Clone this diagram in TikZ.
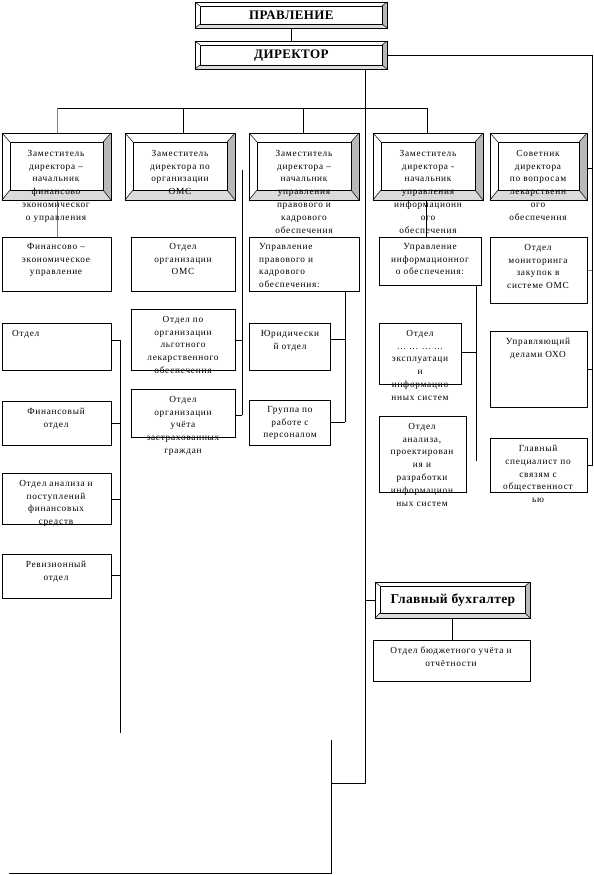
\documentclass[tikz,border=0pt]{standalone}
\usepackage{fontspec}
\setmainfont{Liberation Serif}
\newfontfamily\rf[LetterSpace=8]{Liberation Serif}
\newfontfamily\rfb[LetterSpace=3]{Liberation Serif}
\usetikzlibrary{backgrounds}
\newcommand\bevelbox[9]{%
 \node[draw, line width=0.8pt, fill=white, anchor=north west, inner sep=0pt, minimum width={#4-#2}, minimum height={#5-#3}] (#1) at (#2,#3) {};
 \fill[gray!55] (#4,#3) -- (#4,#5) -- ({#4-#8},{#5-#9}) -- ({#4-#8},{#3+#7}) -- cycle;
 \fill[gray!28] (#2,#5) -- (#4,#5) -- ({#4-#8},{#5-#9}) -- ({#2+#6},{#5-#9}) -- cycle;
 \draw[line width=0.5pt] ({#2+#6},{#3+#7}) rectangle ({#4-#8},{#5-#9});
 \draw[line width=0.5pt] (#2,#3)--({#2+#6},{#3+#7}) (#4,#3)--({#4-#8},{#3+#7}) (#2,#5)--({#2+#6},{#5-#9}) (#4,#5)--({#4-#8},{#5-#9});
 \draw[line width=0.8pt] (#1.north west) rectangle (#1.south east);
}
\newcommand\pbox[5]{%
 \node[plainbox, anchor=north west, minimum width={#4-#2}, minimum height={#5-#3}] (#1) at (#2,#3) {};}
\tikzset{
 plainbox/.style={draw, line width=0.8pt, fill=white, inner sep=0pt},
 txt/.style={font=\rf\fontsize{9.3}{12.8}\selectfont, align=center, inner sep=0pt, anchor=north},
 btxt/.style={font=\rfb\bfseries\fontsize{13}{15}\selectfont, inner sep=0pt},
 conn/.style={line width=0.8pt},
 gconn/.style={line width=0.8pt, gray}
}
\begin{document}
\begin{tikzpicture}[x=1pt,y=-1pt]
\useasboundingbox (0,0) rectangle (594,875);
% top boxes
\bevelbox{board}{195}{2}{387}{28}{5}{4}{5}{4}
\bevelbox{dir}{195}{41}{387}{69}{5}{4}{5}{4}
% column headers
\bevelbox{h1}{2}{133}{111}{200}{8}{9}{8}{10}
\bevelbox{h2}{125}{133}{235}{200}{8}{9}{8}{10}
\bevelbox{h3}{249}{133}{359}{200}{8}{9}{8}{10}
\bevelbox{h4}{373}{133}{483}{200}{8}{9}{8}{10}
\bevelbox{h5}{490}{133}{587}{200}{8}{9}{8}{10}
% column 1
\pbox{fin}{2}{237}{111}{291}
\pbox{otd}{2}{323}{111}{370}
\pbox{finotd}{2}{401}{111}{445}
\pbox{anal}{2}{473}{111}{524}
\pbox{rev}{2}{554}{111}{598}
% column 2
\pbox{oms}{131}{237}{235}{291}
\pbox{lgot}{131}{309}{235}{370}
\pbox{uch}{131}{389}{235}{437}
% column 3
\pbox{prav}{249}{237}{359}{291}
\pbox{yur}{249}{323}{330}{370}
\pbox{grp}{249}{400}{330}{445}
% column 4
\pbox{inf}{379}{237}{481}{285}
\pbox{expl}{379}{323}{461}{384}
\pbox{proekt}{379}{416}{466}{492}
% column 5
\pbox{mon}{490}{237}{587}{303}
\pbox{upr}{490}{331}{587}{407}
\pbox{glsp}{490}{438}{587}{492}
% accountant
\bevelbox{buh}{375}{582}{530}{618}{5}{4}{5}{5}
\pbox{budg}{373}{640}{530}{681}

% connectors
\begin{pgfonlayer}{background}
\coordinate (busL) at (57,108);
\coordinate (busR) at (427,108);
\draw[conn] (board.south) -- (dir.north);
\draw[conn] (dir.east) -- (dir.east -| 592,0) coordinate (rtop) -- (592,465) coordinate (rbot) -- (rbot -| glsp.east);
\draw[conn] (h5.east |- 0,168) -- (592,168);
\draw[gconn] (mon.east |- 0,270) -- (592,270);
\draw[conn] (upr.east |- 0,369) -- (592,369);
\draw[conn] (busL) -- (busR);
\draw[gconn] (busL) -- (fin.north -| busL);
\draw[conn] (183,108) -- (h2.north -| 183,0);
\draw[conn] (303,108) -- (h3.north -| 303,0);
\draw[conn] (busR) -- (h4.north -| busR);
\draw[conn] (h4.south -| 426,0) -- (inf.north -| 426,0);
% director trunk
\draw[conn] (dir.south -| 365,0) -- (365,783) coordinate (dcorner) -- (331,783);
\draw[conn] (331,740) -- (331,873) -- (9,873);
\draw[conn] (buh.west |- 0,600) -- (365,600);
\draw[conn] (buh.south -| 452,0) -- (budg.north -| 452,0);
% column 1 bus
\draw[conn] (120,340) -- (120,733);
\draw[conn] (otd.east |- 0,340) -- (120,340);
\draw[conn] (finotd.east |- 0,423) -- (120,423);
\draw[conn] (anal.east |- 0,499) -- (120,499);
\draw[conn] (rev.east |- 0,575) -- (120,575);
% column 2 bus
\draw[conn] (242,170) -- (242,415);
\draw[conn] (lgot.east |- 0,340) -- (242,340);
\draw[conn] (uch.east |- 0,415) -- (242,415);
% column 3 bus
\draw[conn] (prav.south -| 345,0) -- (345,422);
\draw[conn] (yur.east |- 0,339) -- (345,339);
\draw[conn] (grp.east |- 0,422) -- (345,422);
% column 4 bus
\draw[conn] (inf.south -| 476,0) -- (476,461);
\draw[conn] (expl.east |- 0,352) -- (476,352);
\end{pgfonlayer}

% texts
\node[btxt] (boardt) at (board.center) {ПРАВЛЕНИЕ};
\node[btxt] (dirt) at (dir.center) {ДИРЕКТОР};
\node[btxt, font=\rfb\bfseries\fontsize{13.5}{15}\selectfont] (buht) at (buh.center) {Главный бухгалтер};
\node[txt] (h1t) at (56,150) {Заместитель\\директора –\\начальник\\финансово\\экономическог\\о управления};
\node[txt] (h2t) at (180,150) {Заместитель\\директора по\\организации\\ОМС};
\node[txt] (h3t) at (304,150) {Заместитель\\директора –\\начальник\\управления\\правового и\\кадрового\\обеспечения};
\node[txt] (h4t) at (428,150) {Заместитель\\директора -\\начальник\\управления\\информационн\\ого\\обеспечения};
\node[txt] (h5t) at (538,150) {Советник\\директора\\по вопросам\\лекарственн\\ого\\обеспечения};
\node[txt] (fint) at (56,243) {Финансово –\\экономическое\\управление};
\node[txt, anchor=north west] (otdt) at (12,330) {Отдел};
\node[txt] (finotdt) at (56,408) {Финансовый\\отдел};
\node[txt] (analt) at (56,480) {Отдел анализа и\\поступлений\\финансовых\\средств};
\node[txt] (revt) at (56,561) {Ревизионный\\отдел};
\node[txt] (omst) at (183,243) {Отдел\\организации\\ОМС};
\node[txt] (lgott) at (183,316) {Отдел по\\организации\\льготного\\лекарственного\\обеспечения};
\node[txt] (ucht) at (183,396) {Отдел\\организации\\учёта\\застрахованных\\граждан};
\node[txt, anchor=north west, align=left] (pravt) at (259,243) {Управление\\правового и\\кадрового\\обеспечения:};
\node[txt] (yurt) at (290,330) {Юридически\\й отдел};
\node[txt] (grpt) at (290,406) {Группа по\\работе с\\персоналом};
\node[txt] (inft) at (430,243) {Управление\\информационног\\о обеспечения:};
\node[txt] (explt) at (420,330) {Отдел\\… … … …\\эксплуатаци\\и\\информацио\\нных систем};
\node[txt] (proektt) at (422,423) {Отдел\\анализа,\\проектирован\\ия и\\разработки\\информацион\\ных систем};
\node[txt] (mont) at (538,244) {Отдел\\мониторинга\\закупок в\\системе ОМС};
\node[txt] (uprt) at (538,338) {Управляющий\\делами ОХО};
\node[txt] (glspt) at (538,445) {Главный\\специалист по\\связям с\\общественност\\ью};
\node[txt] (budgt) at (451,647) {Отдел бюджетного учёта и\\отчётности};
\end{tikzpicture}
\end{document}
